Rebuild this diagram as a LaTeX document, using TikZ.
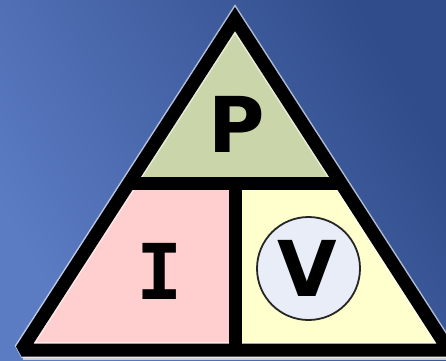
\documentclass[tikz,border=0pt]{standalone}
\usepackage{fontspec}
\setmainfont{DejaVu Sans}
\newfontfamily\monofnt{DejaVu Sans Mono}
\definecolor{bgdark}{HTML}{304C8A}
\definecolor{bglight}{HTML}{5B7BC3}
\definecolor{topgreen}{HTML}{CAD6AA}
\definecolor{leftpink}{HTML}{FFCECE}
\definecolor{rightyellow}{HTML}{FFFFCE}
\definecolor{circfill}{HTML}{E9EDF8}
\begin{document}
\begin{tikzpicture}[x=1pt,y=-1pt,
  letter/.style={inner sep=0pt,font=\bfseries\fontsize{77}{80}\selectfont},
  edge/.style={line width=13pt,black}]
\useasboundingbox (0,0) rectangle (446,360);
\clip (0,0) rectangle (446,360);
\shade[top color=bgdark,bottom color=bglight,shading angle=-60] (0,0) rectangle (446,360);
% shadow strip under base
\fill[gray!40] (23,356) rectangle (446,360);
% coordinates
\coordinate (A) at (235,19);
\coordinate (BL) at (21.5,350);
\coordinate (BR) at (448.5,350);
\coordinate (ML) at (129.2,183);
\coordinate (MR) at (340.8,183);
\coordinate (MC) at (235,183);
\coordinate (BC) at (235,350);
% fills
\fill[topgreen] (A) -- (MR) -- (ML) -- cycle;
\fill[leftpink] (ML) -- (MC) -- (BC) -- (BL) -- cycle;
\fill[rightyellow] (MC) -- (MR) -- (BR) -- (BC) -- cycle;
% halo and outline
\draw[white,opacity=0.6,line width=16pt,line join=miter,miter limit=2] (A) -- (BR) -- (BL) -- cycle;
\draw[edge,line join=miter,miter limit=2] (A) -- (BR) -- (BL) -- cycle;
\draw[edge] (ML) -- (MR);
\draw[edge] (MC) -- (BC);
% circle
\node[circle,draw=black!85,line width=1.8pt,fill=circfill,minimum size=103pt,inner sep=0pt] (circ) at (308.5,268.5) {};
% letters
\node[letter] (p) at (236.5,124) {P};
\node[letter,font=\monofnt\bfseries\fontsize{77}{80}\selectfont] (i) at (160,271) {I};
\node[letter] (v) at (307.5,268.5) {V};
\end{tikzpicture}
\end{document}
